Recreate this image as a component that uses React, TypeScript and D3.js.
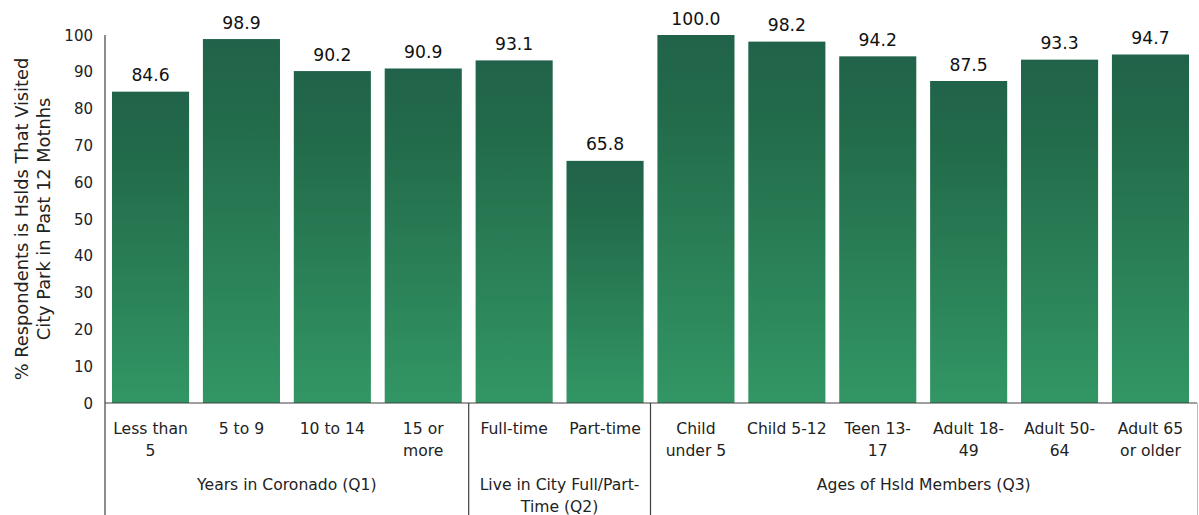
import React from "react";
import * as d3 from "d3";

const categories: string[][] = [
  ["Less than", "5"],
  ["5 to 9"],
  ["10 to 14"],
  ["15 or", "more"],
  ["Full-time"],
  ["Part-time"],
  ["Child", "under 5"],
  ["Child 5-12"],
  ["Teen 13-", "17"],
  ["Adult 18-", "49"],
  ["Adult 50-", "64"],
  ["Adult 65", "or older"],
];
const values: number[] = [84.6, 98.9, 90.2, 90.9, 93.1, 65.8, 100.0, 98.2, 94.2, 87.5, 93.3, 94.7];
const groups: { label: string[]; start: number; end: number }[] = [
  { label: ["Years in Coronado (Q1)"], start: 0, end: 4 },
  { label: ["Live in City Full/Part-", "Time (Q2)"], start: 4, end: 6 },
  { label: ["Ages of Hsld Members (Q3)"], start: 6, end: 12 },
];
const yTicks: number[] = [0, 10, 20, 30, 40, 50, 60, 70, 80, 90, 100];
const yTitle: string[] = ["% Respondents is Hslds That Visited", "City Park in Past 12 Motnhs"];

const W = 1199;
const H = 515;
const FONT = "'DejaVu Sans', Verdana, sans-serif";

export default function App() {
  const x = d3
    .scaleBand<number>()
    .domain(values.map((_, i) => i))
    .range([105, 1196])
    .paddingInner(0.152)
    .paddingOuter(0.077);
  const y = d3.scaleLinear().domain([0, 100]).range([403, 35]);
  const step = x.step();
  const bw = x.bandwidth();
  const gap = step - bw;
  const boundary = (i: number) =>
    i === 0 ? 105 : i >= values.length ? 1197 : (x(i) as number) - gap / 2;

  return (
    <svg
      width={W}
      height={H}
      style={{ position: "absolute", left: 0, top: 0, background: "#fff" }}
      fontFamily={FONT}
    >
      <defs>
        <linearGradient id="barGrad" x1="0" y1="0" x2="0" y2="1">
          <stop offset="0%" stopColor="#21634a" />
          <stop offset="20%" stopColor="#226a4a" />
          <stop offset="100%" stopColor="#329664" />
        </linearGradient>
      </defs>

      {/* bars */}
      {values.map((v, i) => (
        <rect
          key={i}
          x={x(i)}
          y={y(v)}
          width={bw}
          height={y(0) - y(v)}
          fill="url(#barGrad)"
        />
      ))}

      {/* value labels */}
      {values.map((v, i) => (
        <text
          key={i}
          x={(x(i) as number) + bw / 2}
          y={y(v) - 10.5}
          textAnchor="middle"
          fontSize={17.2}
          fill="#111"
        >
          {v.toFixed(1)}
        </text>
      ))}

      {/* y tick labels */}
      {yTicks.map((t) => (
        <text key={t} x={93} y={y(t) + 5.5} textAnchor="end" fontSize={15} fill="#222">
          {t}
        </text>
      ))}

      {/* y title */}
      <g transform={`translate(0, 219) rotate(-90)`}>
        {yTitle.map((line, k) => (
          <text key={k} x={0} y={28 + k * 22} textAnchor="middle" fontSize={17.8} fill="#222">
            {line}
          </text>
        ))}
      </g>

      {/* axes */}
      <line x1={105} x2={105} y1={35} y2={515} stroke="#404040" strokeWidth={1.2} />
      <line x1={105} x2={1197} y1={403} y2={403} stroke="#404040" strokeWidth={1.2} />
      {groups.slice(1).map((g, k) => (
        <line
          key={k}
          x1={boundary(g.start)}
          x2={boundary(g.start)}
          y1={403}
          y2={515}
          stroke="#404040"
          strokeWidth={1.2}
        />
      ))}
      <line x1={1197.5} x2={1197.5} y1={403} y2={515} stroke="#bbb" strokeWidth={1} />

      {/* category labels */}
      {categories.map((lines, i) => (
        <text
          key={i}
          x={(x(i) as number) + bw / 2}
          textAnchor="middle"
          fontSize={15.6}
          fill="#222"
        >
          {lines.map((l, k) => (
            <tspan key={k} x={(x(i) as number) + bw / 2} y={433.5 + k * 22}>
              {l}
            </tspan>
          ))}
        </text>
      ))}

      {/* group labels */}
      {groups.map((g, k) => {
        const cx = (boundary(g.start) + boundary(g.end)) / 2;
        return (
          <text key={k} textAnchor="middle" fontSize={15.6} fill="#222">
            {g.label.map((l, j) => (
              <tspan key={j} x={cx} y={489.5 + j * 22}>
                {l}
              </tspan>
            ))}
          </text>
        );
      })}
    </svg>
  );
}
